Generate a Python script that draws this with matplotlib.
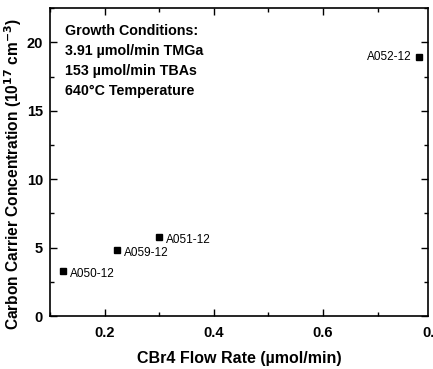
import matplotlib.pyplot as plt
from matplotlib.ticker import MultipleLocator

plt.rcParams['font.family'] = ['Liberation Sans', 'DejaVu Sans']

# data
samples = ['A050-12', 'A059-12', 'A051-12', 'A052-12']
cbr4_flow = [0.124, 0.222, 0.300, 0.775]
carbon_conc = [3.28, 4.81, 5.78, 18.95]

fig = plt.figure(figsize=(4.33, 3.69), dpi=100)
ax = fig.add_axes([0.1155, 0.1436, 0.8725, 0.8344])

ax.plot(cbr4_flow, carbon_conc, 's', color='black', markersize=4.5, linestyle='none')

for name, x, y in zip(samples, cbr4_flow, carbon_conc):
    if x > 0.7:
        ax.annotate(name, (x, y), xytext=(-5, 0), textcoords='offset points',
                    ha='right', va='center', fontsize=8.5)
    else:
        ax.annotate(name, (x, y), xytext=(5, -2), textcoords='offset points',
                    ha='left', va='center', fontsize=8.5)

ax.set_xlim(0.1, 0.792)
ax.set_ylim(0, 22.5)
ax.xaxis.set_major_locator(MultipleLocator(0.2))
ax.xaxis.set_minor_locator(MultipleLocator(0.1))
ax.yaxis.set_major_locator(MultipleLocator(5))
ax.yaxis.set_minor_locator(MultipleLocator(2.5))

ax.tick_params(which='both', direction='in', top=True, right=True, width=1.0)
ax.tick_params(which='major', length=5, labelsize=10.5, pad=7)
ax.tick_params(which='minor', length=3)
ax.tick_params(axis='y', pad=5)
for lab in ax.get_xticklabels() + ax.get_yticklabels():
    lab.set_fontweight('bold')
for s in ax.spines.values():
    s.set_linewidth(1.2)

# the 0.8 label sits just past the right edge, as in the original
ax.text(0.8, -0.032, '0.8', transform=ax.get_xaxis_transform(), ha='center',
        va='top', fontsize=10.5, fontweight='bold', clip_on=False)

ax.set_xlabel('CBr4 Flow Rate (µmol/min)', fontsize=11.5, fontweight='bold', labelpad=8)
ax.set_ylabel('Carbon Carrier Concentration (10$^{\\mathbf{17}}$ cm$^{\\mathbf{-3}}$)',
              fontsize=11.2, fontweight='bold')
ax.yaxis.set_label_coords(-0.07, 0.46)

ax.text(0.04, 0.95, 'Growth Conditions:\n3.91 µmol/min TMGa\n153 µmol/min TBAs\n640°C Temperature',
        transform=ax.transAxes, ha='left', va='top', fontsize=10.3,
        fontweight='bold', linespacing=1.55)

fig.savefig('out.png', dpi=100)
